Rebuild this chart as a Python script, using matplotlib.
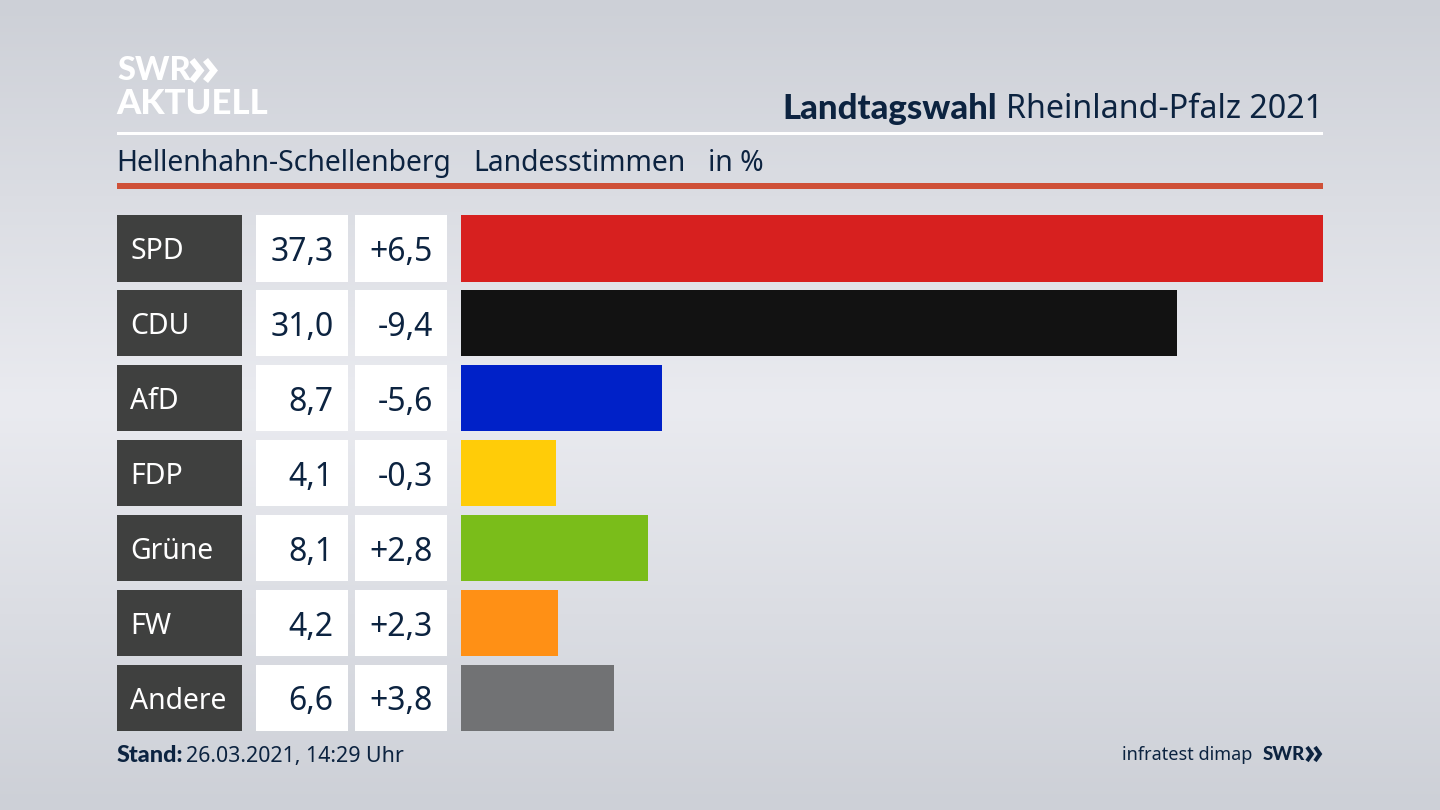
import numpy as np
import matplotlib.pyplot as plt
from matplotlib.patches import Rectangle

plt.rcParams['font.family'] = ['Noto Sans', 'DejaVu Sans']

parties = ["SPD", "CDU", "AfD", "FDP", "Grüne", "FW", "Andere"]
shares = [37.3, 31.0, 8.7, 4.1, 8.1, 4.2, 6.6]
changes = ["+6,5", "-9,4", "-5,6", "-0,3", "+2,8", "+2,3", "+3,8"]
colors = ["#d7201f", "#121212", "#0021c8", "#ffcc08", "#7abd1a", "#ff9015", "#717274"]

NAVY = "#0c2340"
BOLD = ["Lato", "DejaVu Sans"]
W, H = 1440, 810
ROW_TOP = 215
ROW_STEP = 74.95
ROW_H = 66.5


def chevrons(ax, left, top, width, height, lw, color):
    # the two arrows of the SWR logo
    for k in range(2):
        x = left + k * width
        ax.plot([x, x + width * 0.62, x], [top, top + height / 2, top + height],
                color=color, lw=lw, solid_joinstyle="miter", solid_capstyle="butt")


fig = plt.figure(figsize=(14.4, 8.1), dpi=100)

# background and everything placed in pixels
bg = fig.add_axes([0, 0, 1, 1])
yy = np.linspace(0, 1, 256)
grad = 1 - np.abs(yy - 0.5) * 2
c_edge = np.array([205, 208, 215]) / 255
c_mid = np.array([234, 235, 240]) / 255
img = c_edge[None, :] + (c_mid - c_edge)[None, :] * grad[:, None]
bg.imshow(img[:, None, :], extent=[0, W, H, 0], aspect="auto", zorder=0)
bg.set_xlim(0, W)
bg.set_ylim(H, 0)
bg.axis("off")

# header
bg.text(117, 70, "SWR", color="white", fontsize=23.5, fontweight="black", family=BOLD, va="center", ha="left")
chevrons(bg, 192, 60, 13.5, 21, 4.6, "white")
bg.text(116, 103.5, "AKTUELL", color="white", fontsize=25, fontweight="black", family=BOLD, va="center", ha="left")
bg.text(1323, 106, "Rheinland-Pfalz 2021", color=NAVY, fontsize=23.2, va="center_baseline", ha="right")
bg.text(997, 106, "Landtagswahl", color=NAVY, fontsize=25, fontweight="black", family=BOLD,
        va="center_baseline", ha="right")
bg.add_patch(Rectangle((117, 132), 1206, 3, color="white", lw=0))
bg.text(116, 160, "Hellenhahn-Schellenberg", color=NAVY, fontsize=20.4, va="center_baseline")
bg.text(473, 160, "Landesstimmen", color=NAVY, fontsize=20.4, va="center_baseline")
bg.text(708, 160, "in %", color=NAVY, fontsize=20.4, va="center_baseline")
bg.add_patch(Rectangle((117, 183), 1206, 6, color="#cf5138", lw=0))

# table columns
for i, party in enumerate(parties):
    top = ROW_TOP + i * ROW_STEP
    mid = top + ROW_H / 2
    bg.add_patch(Rectangle((117, top), 124.5, ROW_H, color="#3f403f", lw=0))
    bg.add_patch(Rectangle((256, top), 92, ROW_H, color="white", lw=0))
    bg.add_patch(Rectangle((355, top), 92, ROW_H, color="white", lw=0))
    bg.text(130.5, mid, party, color="white", fontsize=20.4, va="center_baseline")
    bg.text(333.5, mid, f"{shares[i]:.1f}".replace(".", ","), color=NAVY, fontsize=23, va="center_baseline", ha="right")
    bg.text(433, mid, changes[i], color=NAVY, fontsize=23, va="center_baseline", ha="right")

# footer
bg.text(117, 754, "Stand:", color=NAVY, fontsize=16.8, fontweight="black", family=BOLD, va="center_baseline")
bg.text(186, 754, "26.03.2021, 14:29 Uhr", color=NAVY, fontsize=15.4, va="center_baseline")
bg.text(1252, 753, "infratest dimap", color=NAVY, fontsize=13, va="center_baseline", ha="right")
bg.text(1263, 753, "SWR", color=NAVY, fontsize=13.5, fontweight="black", family=BOLD, va="center_baseline", ha="left")
chevrons(bg, 1307, 747, 8, 14, 2.8, NAVY)

# bars
x0, x1 = 461 / W, 1323 / W
pad = ROW_H / ROW_STEP / 2
y_bottom = 1 - (ROW_TOP + 6 * ROW_STEP + ROW_H) / H
y_h = (6 * ROW_STEP + ROW_H) / H
ax = fig.add_axes([x0, y_bottom, x1 - x0, y_h])
ax.barh(range(len(parties)), shares, height=ROW_H / ROW_STEP, color=colors)
ax.set_xlim(0, max(shares))
ax.set_ylim(6 + pad, -pad)
ax.axis("off")

fig.savefig("out.png", dpi=100)
